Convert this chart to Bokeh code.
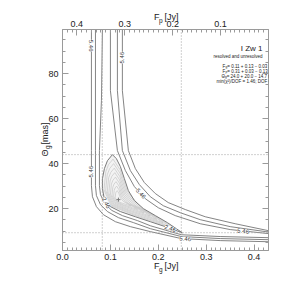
import math
from bokeh.plotting import figure
from bokeh.models import (Range1d, LinearAxis, FixedTicker, SingleIntervalTicker,
                          NumeralTickFormatter, CustomJSTickFormatter, Label, Span, Title)
from bokeh.embed import file_html
from bokeh.resources import INLINE

# ---------------- data ----------------
FG_RANGE = (0.0, 0.43)          # F_g [Jy]
TH_RANGE = (1.4, 99.6)          # Theta_g [mas]
FTOT = 0.43                     # F_p = FTOT - F_g (top axis)

top_ticks = [0.1, 0.2, 0.3, 0.4]

best_fg, best_th = 0.1167, 24.0
err_fg = [0.083, 0.248]
err_th = [9.3, 44.0]

# 2.46 contour (closed)
c246_fg = [0.1042, 0.1125, 0.1208, 0.1292, 0.1375, 0.15, 0.1688, 0.1938, 0.2188, 0.2375, 0.25,
           0.2354, 0.2146, 0.1833, 0.1521, 0.1208, 0.1, 0.0875, 0.0833, 0.0833, 0.0875, 0.0938, 0.1042]
c246_th = [44.0, 42.2, 38.7, 33.3, 28.0, 23.6, 20.0, 16.9, 13.8, 11.1, 9.3,
           10.4, 12.0, 14.2, 16.4, 18.7, 20.9, 24.0, 28.9, 33.3, 37.8, 41.3, 44.0]

# inner (light) contours, outermost first
inner_fg = [
    [0.1055, 0.1204, 0.1354, 0.1636, 0.2086, 0.2367, 0.2048, 0.1486, 0.1017, 0.0866, 0.0904, 0.0961, 0.1055],
    [0.1067, 0.12, 0.1333, 0.1584, 0.1984, 0.2233, 0.195, 0.145, 0.1033, 0.09, 0.0933, 0.0984, 0.1067],
    [0.108, 0.1196, 0.1313, 0.1532, 0.1882, 0.21, 0.1852, 0.1415, 0.105, 0.0933, 0.0963, 0.1007, 0.108],
    [0.1092, 0.1192, 0.1292, 0.148, 0.178, 0.1967, 0.1754, 0.138, 0.1067, 0.0967, 0.0992, 0.103, 0.1092],
    [0.1105, 0.1188, 0.1271, 0.1428, 0.1678, 0.1834, 0.1657, 0.1344, 0.1084, 0.1, 0.1021, 0.1053, 0.1105],
    [0.1117, 0.1183, 0.125, 0.1375, 0.1575, 0.17, 0.1559, 0.1309, 0.11, 0.1033, 0.105, 0.1075, 0.1117],
    [0.113, 0.1179, 0.1229, 0.1323, 0.1473, 0.1567, 0.1461, 0.1273, 0.1117, 0.1067, 0.1079, 0.1098, 0.113],
    [0.1142, 0.1175, 0.1209, 0.1271, 0.1371, 0.1434, 0.1363, 0.1238, 0.1134, 0.11, 0.1109, 0.1121, 0.1142],
]
inner_th = [
    [42.0, 37.2, 27.6, 20.4, 14.8, 10.8, 13.2, 17.2, 21.2, 28.4, 36.4, 39.6, 42.0],
    [40.0, 35.8, 27.2, 20.8, 15.8, 12.2, 14.4, 17.9, 21.5, 27.9, 35.0, 37.8, 40.0],
    [38.0, 34.3, 26.8, 21.2, 16.9, 13.7, 15.6, 18.7, 21.8, 27.4, 33.7, 36.1, 38.0],
    [36.0, 32.8, 26.4, 21.6, 17.9, 15.2, 16.8, 19.4, 22.1, 26.9, 32.3, 34.4, 36.0],
    [34.0, 31.35, 26.0, 22.0, 18.9, 16.65, 18.0, 20.2, 22.45, 26.45, 30.9, 32.65, 34.0],
    [32.0, 29.9, 25.6, 22.4, 19.9, 18.1, 19.2, 21.0, 22.8, 26.0, 29.5, 30.9, 32.0],
    [30.0, 28.4, 25.2, 22.8, 20.9, 19.6, 20.4, 21.7, 23.1, 25.5, 28.1, 29.2, 30.0],
    [28.0, 26.9, 24.8, 23.2, 22.0, 21.1, 21.6, 22.5, 23.4, 25.0, 26.8, 27.5, 28.0],
]

# outer open contours, lower-left branch
L1_fg = [0.0604, 0.0604, 0.0604, 0.0625, 0.0708, 0.0854, 0.1104, 0.1417, 0.1833, 0.2479, 0.3292, 0.43]
L1_th = [99.6, 45.8, 30.2, 25.3, 20.9, 17.3, 14.2, 12.0, 9.8, 6.7, 5.8, 5.3]
L2_fg = [0.0688, 0.0688, 0.0688, 0.0708, 0.0792, 0.0938, 0.1167, 0.1479, 0.1833, 0.2479, 0.3292, 0.43]
L2_th = [99.6, 45.8, 30.2, 25.8, 21.8, 18.7, 16.0, 13.8, 11.1, 7.6, 6.7, 6.2]
L3_fg = [0.0833, 0.0813, 0.0771, 0.0771, 0.0792, 0.0875, 0.1021, 0.125, 0.1563, 0.1833, 0.2479, 0.3292, 0.43]
L3_th = [99.6, 68.0, 45.8, 30.2, 26.2, 22.7, 19.3, 16.9, 14.7, 12.4, 8.4, 7.6, 7.1]

# outer open contours, upper-right branch
R1_fg = [0.1, 0.1, 0.1146, 0.1313, 0.15, 0.1729, 0.2, 0.2354, 0.2875, 0.35, 0.43]
R1_th = [99.6, 72.4, 45.8, 36.9, 29.8, 24.4, 20.4, 16.9, 13.3, 10.7, 8.9]
R2_fg = [0.1146, 0.1146, 0.125, 0.1417, 0.1604, 0.1833, 0.2104, 0.2458, 0.2875, 0.35, 0.43]
R2_th = [99.6, 72.4, 45.8, 36.9, 30.7, 25.3, 21.3, 18.2, 15.1, 12.0, 9.6]
R3_fg = [0.125, 0.125, 0.1375, 0.1521, 0.1708, 0.1938, 0.2208, 0.2563, 0.2979, 0.3604, 0.43]
R3_th = [99.6, 72.4, 45.8, 37.8, 31.6, 26.7, 22.7, 19.6, 16.4, 13.3, 10.2]

# contour labels: (text, F_g, Theta_g, angle)
clabels = [
    ("5.46", 0.0604, 92.4, -math.pi / 2),
    ("5.46", 0.125, 87.1, math.pi / 2),
    ("5.46", 0.0604, 36.4, math.pi / 2),
    ("5.46", 0.1635, 26.7, -0.82),
    ("2.46", 0.091, 22.6, -1.1),
    ("2.46", 0.225, 11.2, -0.34),
    ("5.46", 0.2563, 6.6, -0.05),
    ("5.46", 0.377, 10.0, -0.1),
]

info_title = "I Zw 1"
info_sub = "resolved and unresolved"
info_rows = [("F", "g", " = 0.11 + 0.13 − 0.03 Jy"),
             ("F", "p", " = 0.31 + 0.03 − 0.13 Jy"),
             ("Θ", "g", " = 24.0 + 20.0 − 14.7 mas"),
             ("min(χ²)/DOF = 1.46; DOF = 8", "", "")]

# ---------------- figure ----------------
AX = "#9a9a9a"
TXT = "#222222"
FONT = "Liberation Sans"
NB = "\u00a0"

p = figure(width=299, height=294, output_backend="svg", toolbar_location=None,
           x_range=Range1d(*FG_RANGE), y_range=Range1d(*TH_RANGE),
           x_axis_type=None, y_axis_type=None,
           min_border_left=62, min_border_right=31, min_border_top=29, min_border_bottom=44)
p.extra_x_ranges = {"fp": Range1d(FTOT, 0.0)}
p.outline_line_color = AX
p.background_fill_color = "white"
p.border_fill_color = "white"


def style_axis(ax):
    ax.axis_line_color = AX
    ax.major_tick_line_color = AX
    ax.minor_tick_line_color = AX
    ax.major_tick_in = 6
    ax.major_tick_out = 0
    ax.minor_tick_in = 3
    ax.minor_tick_out = 0
    ax.major_label_text_font = FONT
    ax.major_label_text_color = TXT
    ax.major_label_text_font_size = "9px"
    ax.major_label_standoff = 3


def title(txt, size, align="left", offset=0, standoff=0, valign="bottom"):
    return Title(text=txt, text_font=FONT, text_font_size=size, text_font_style="normal",
                 text_color=TXT, align=align, offset=offset, standoff=standoff,
                 vertical_align=valign)


xb = LinearAxis(ticker=SingleIntervalTicker(interval=0.1, num_minor_ticks=10),
                formatter=NumeralTickFormatter(format="0.0"))
style_axis(xb)
p.add_layout(xb, "below")
p.add_layout(title("F" + NB + NB + "[Jy]", "9px", offset=91.5, standoff=-3, valign="top"), "below")
p.add_layout(title("g", "6.5px", offset=96.5, standoff=-12, valign="top"), "below")

xt = LinearAxis(x_range_name="fp",
                ticker=FixedTicker(ticks=top_ticks,
                                   minor_ticks=[round(0.01 * i, 2) for i in range(1, 43)]),
                formatter=NumeralTickFormatter(format="0.0"))
style_axis(xt)
p.add_layout(xt, "above")
p.add_layout(title("F" + NB + NB + "[Jy]", "9px", offset=91.5, standoff=-9), "above")
p.add_layout(title("p", "6.5px", offset=96.5, standoff=-18), "above")

yl = LinearAxis(ticker=SingleIntervalTicker(interval=20, num_minor_ticks=4))
style_axis(yl)
yl.major_label_standoff = 4
p.add_layout(yl, "left")
p.add_layout(title("Θ" + NB + NB + "[mas]", "9px", offset=94, standoff=-8), "left")
p.add_layout(title("g", "6.5px", offset=101.5, standoff=-18), "left")

yr = LinearAxis(ticker=SingleIntervalTicker(interval=20, num_minor_ticks=4),
                formatter=CustomJSTickFormatter(code="return ''"))
style_axis(yr)
p.add_layout(yr, "right")

# filled inner region and light contours
p.patch(c246_fg, c246_th, fill_color="#f3f3f3", line_color=None)
for fx, fy in zip(inner_fg, inner_th):
    p.line(fx, fy, line_color="#c6c6c6", line_width=0.7)
p.line(c246_fg, c246_th, line_color="#7a7a7a", line_width=1)

DARK = "#6e6e6e"
for fx, fy in [(L1_fg, L1_th), (L2_fg, L2_th), (L3_fg, L3_th),
               (R1_fg, R1_th), (R2_fg, R2_th), (R3_fg, R3_th)]:
    p.line(fx, fy, line_color=DARK, line_width=0.85)

# error bounds
for loc in err_fg:
    p.add_layout(Span(location=loc, dimension="height", line_color="#a0a0a0",
                      line_dash="1 2", line_width=1))
for loc in err_th:
    p.add_layout(Span(location=loc, dimension="width", line_color="#a0a0a0",
                      line_dash="1 2", line_width=1))

p.scatter([best_fg], [best_th], marker="cross", size=4, line_color="#777777")

for t, fx, fy, ang in clabels:
    p.add_layout(Label(x=fx, y=fy, text=t, angle=ang, text_align="center",
                       text_baseline="middle", text_font=FONT, text_font_size="6px",
                       text_color="#333333", background_fill_color="white"))


def plab(txt, px, py, size, align="left", angle=0.0):
    # px, py: pixel position on the page; converted to frame-relative screen units
    p.add_layout(Label(x=px - 62, y=250 - py, x_units="screen", y_units="screen", text=txt,
                       text_font=FONT, text_font_size=size, text_color=TXT,
                       text_align=align, text_baseline="middle", angle=angle))


# info block
plab(info_title, 262, 48, "8px", align="right")
plab(info_sub, 262, 56, "4.5px", align="right")
row_pos = [(222, 65.5), (222, 70.5), (221, 75.5), (216, 80.5)]
for (sym, sub, rest), (x0, y0) in zip(info_rows, row_pos):
    plab(sym, x0, y0, "4.5px")
    if sub:
        w = 3.0 if sym == "F" else 3.4
        plab(sub, x0 + w, y0 + 1.2, "3.2px")
        plab(rest, x0 + w + 1.8, y0, "4.5px")

open("out.html", "w").write(file_html(p, INLINE))
